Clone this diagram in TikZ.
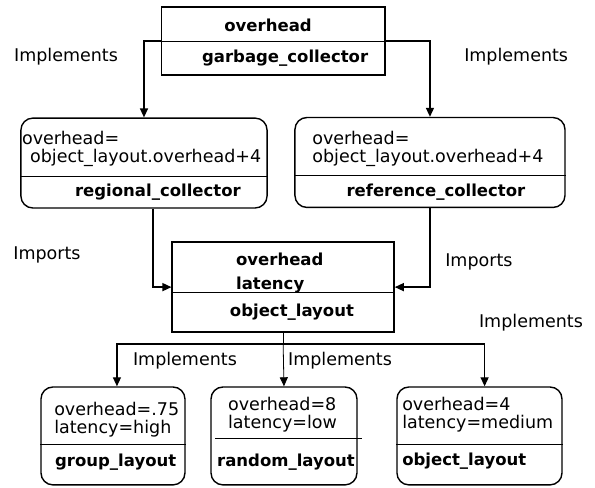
\documentclass[tikz,border=0pt]{standalone}
\usepackage{fontspec}
\setmainfont{DejaVu Sans}
\usetikzlibrary{positioning, arrows.meta}
\newcommand{\plainsize}{\fontsize{17.5}{21}\selectfont}
\newcommand{\titlesize}{\fontsize{16.5}{20}\selectfont\bfseries}
\tikzset{
    module/.style={
        font=\plainsize,
        >={Triangle[width=8pt, length=9pt]},
        classbox/.style={draw, rectangle, line width=1.4pt, minimum height=3.16cm},
        implbox/.style={classbox, rounded corners=0.42cm},
        divider/.style={line width=0.8pt},
        field/.style={anchor=west, inner sep=0pt},
        title/.style={inner sep=0pt, font=\titlesize},
        relation/.style={inner sep=0pt},
        arrow/.style={line width=1.4pt, ->},
        thinarrow/.style={line width=0.8pt, ->}
    }
}

\begin{document}
\begin{tikzpicture}[module]
        \useasboundingbox (0, 0) rectangle (20.91, -17.12);

        % Interface at the top
        \node[classbox, minimum width=7.87cm, minimum height=2.39cm] (gc) at (9.60, -1.44) {};
        \draw[divider] (gc.west) -- (gc.east);
        \node[title] (gcfield) at (9.42, -0.88) {overhead};
        \node[title] (gcname) at (10.02, -2.04) {garbage\_collector};

        % Collectors
        \node[implbox, minimum width=8.65cm] (rc) at (5.06, -5.73) {};
        \draw[divider] ([yshift=-0.46cm]rc.west) -- ([yshift=-0.46cm]rc.east);
        \node[field] (rcf1) at (0.77, -4.85) {overhead=};
        \node[field] (rcf2) at (1.05, -5.55) {object\_layout.overhead+4};
        \node[title] (rcname) at (5.55, -6.75) {regional\_collector};

        \node[implbox, minimum width=9.49cm] (ref) at (15.11, -5.71) {};
        \draw[divider] ([yshift=-0.46cm]ref.west) -- ([yshift=-0.46cm]ref.east);
        \node[field] (reff1) at (10.97, -4.85) {overhead=};
        \node[field] (reff2) at (10.97, -5.55) {object\_layout.overhead+4};
        \node[title] (refname) at (15.32, -6.75) {reference\_collector};

        % Layout interface
        \node[classbox, minimum width=7.80cm] (ol) at (9.95, -10.09) {};
        \draw[divider] ([yshift=-0.18cm]ol.west) -- ([yshift=-0.18cm]ol.east);
        \node[title, anchor=west] (olf1) at (8.29, -9.10) {overhead};
        \node[title, anchor=west] (olf2) at (8.29, -10.00) {latency};
        \node[title] (olname) at (10.26, -10.97) {object\_layout};

        % Layouts
        \node[implbox, minimum width=5.06cm, minimum height=3.44cm] (gl) at (3.97, -15.32) {};
        \draw[divider] ([yshift=-0.28cm]gl.west) -- ([yshift=-0.28cm]gl.east);
        \node[field] (glf1) at (1.90, -14.37) {overhead=.75};
        \node[field] (glf2) at (1.90, -15.08) {latency=high};
        \node[title, anchor=west] (glname) at (1.93, -16.24) {group\_layout};

        \node[implbox, minimum width=5.13cm, minimum height=3.44cm] (rl) at (9.98, -15.32) {};
        \draw[divider] ([xshift=0.18cm, yshift=-0.07cm]rl.west) -- ([xshift=0.14cm, yshift=-0.07cm]rl.east);
        \node[field] (rlf1) at (8.01, -14.20) {overhead=8};
        \node[field] (rlf2) at (8.01, -14.90) {latency=low};
        \node[title] (rlname) at (10.05, -16.24) {random\_layout};

        \node[implbox, minimum width=5.80cm, minimum height=3.44cm] (obl) at (16.85, -15.32) {};
        \draw[divider] ([yshift=-0.28cm]obl.west) -- ([yshift=-0.28cm]obl.east);
        \node[field] (oblf1) at (14.13, -14.20) {overhead=4};
        \node[field] (oblf2) at (14.13, -14.90) {latency=medium};
        \node[title, anchor=west] (oblname) at (14.13, -16.20) {object\_layout};

        % Arrows
        \draw[arrow] (gc.west) -| (rc.north);
        \draw[arrow] (gc.east) -| (ref.north);

        \draw[arrow] ([xshift=0.32cm]rc.south) |- (ol.west);
        \draw[arrow] (ref.south) |- (ol.east);

        \coordinate[below=0.39cm of ol.south] (fork);
        \draw[line width=0.8pt] (ol.south) -- (fork);
        \draw[arrow] (fork) -| ([xshift=0.14cm]gl.north);
        \draw[arrow] (fork) -| ([xshift=0.18cm]obl.north);
        \draw[thinarrow] (fork) -- (rl.north);

        % Labels
        \node[relation] (impl1) at (2.32, -2.00) {Implements};
        \node[relation] (impl2) at (18.14, -2.00) {Implements};
        \node[relation] (imp1) at (1.65, -8.96) {Imports};
        \node[relation] (imp2) at (16.83, -9.21) {Imports};
        \node[relation] (impl3) at (6.50, -12.69) {Implements};
        \node[relation] (impl4) at (11.95, -12.69) {Implements};
        \node[relation] (impl5) at (18.66, -11.35) {Implements};

    \end{tikzpicture}
\end{document}
